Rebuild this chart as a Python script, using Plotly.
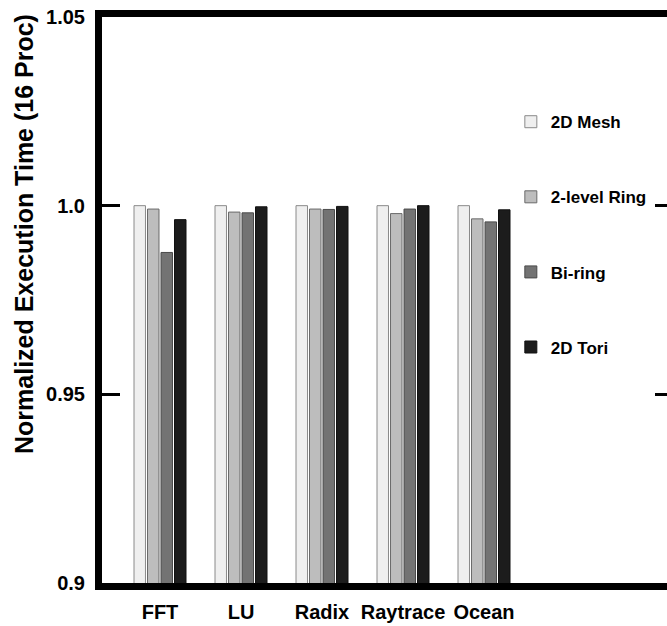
import plotly.graph_objects as go

categories = ["FFT", "LU", "Radix", "Raytrace", "Ocean"]
series_names = ["2D Mesh", "2-level Ring", "Bi-ring", "2D Tori"]
mesh_2d = [1.0, 1.0, 1.0, 1.0, 1.0]
ring_2level = [0.9991, 0.9983, 0.9991, 0.9979, 0.9965]
bi_ring = [0.9876, 0.9981, 0.9990, 0.9991, 0.9957]
tori_2d = [0.9963, 0.9997, 0.9998, 1.0, 0.9989]
y_tick_vals = [0.9, 0.95, 1.0, 1.05]
y_tick_text = ["0.9", "0.95", "1.0", "1.05"]

series_values = [mesh_2d, ring_2level, bi_ring, tori_2d]
fill_colors = ["#efefef", "#bdbdbd", "#737373", "#1c1c1c"]
line_colors = ["#8a8a8a", "#6a6a6a", "#4a4a4a", "#111111"]

FONT = "Liberation Sans, Arial, sans-serif"

fig = go.Figure()
for i, (name, vals) in enumerate(zip(series_names, series_values)):
    fig.add_trace(go.Bar(
        x=categories, y=vals, name=name,
        legendgroup=f"g{i}",
        marker=dict(color=fill_colors[i], line=dict(color=line_colors[i], width=1)),
    ))

# empty helper trace so the mirrored right-hand tick axis is drawn
fig.add_trace(go.Scatter(x=[], y=[], yaxis="y2", showlegend=False, hoverinfo="skip"))

fig.update_layout(
    width=667, height=626,
    margin=dict(l=102, r=0, t=17, b=43),
    paper_bgcolor="white", plot_bgcolor="white",
    barmode="group", bargap=0.333, bargroupgap=0.15,
    font=dict(family=FONT, color="black", weight=700),
    showlegend=True,
    legend=dict(
        x=0.7236, xanchor="left", y=0.846, yanchor="top",
        font=dict(family=FONT, size=17, color="black", weight=700),
        tracegroupgap=50, bgcolor="rgba(0,0,0,0)", borderwidth=0,
        traceorder="grouped",
    ),
    xaxis=dict(
        type="category", range=[-0.716, 6.259],
        showline=True, linewidth=7, linecolor="black", mirror=True,
        ticks="", showgrid=False, zeroline=False,
        tickfont=dict(family=FONT, size=20, color="black", weight=700),
        ticklabelstandoff=5,
    ),
    yaxis=dict(
        range=[0.9, 1.05], tickvals=y_tick_vals, ticktext=y_tick_text,
        showline=True, linewidth=7, linecolor="black",
        ticks="inside", ticklen=18, tickwidth=3, tickcolor="black",
        showgrid=False, zeroline=False,
        tickfont=dict(family=FONT, size=20, color="black", weight=700),
        ticklabelstandoff=6,
    ),
    yaxis2=dict(
        range=[0.9, 1.05], tickvals=y_tick_vals, overlaying="y", side="right",
        anchor="x", showline=False, ticks="inside", ticklen=12, tickwidth=3,
        tickcolor="black", showticklabels=False, showgrid=False, zeroline=False,
    ),
    annotations=[dict(
        text="Normalized Execution Time (16 Proc)",
        xref="paper", yref="paper", x=0, y=(583 - 234) / 566,
        xanchor="center", yanchor="middle", xshift=-78,
        textangle=-90, showarrow=False,
        font=dict(family=FONT, size=25, color="black", weight=700),
    )],
)

fig.write_html("out.html")
